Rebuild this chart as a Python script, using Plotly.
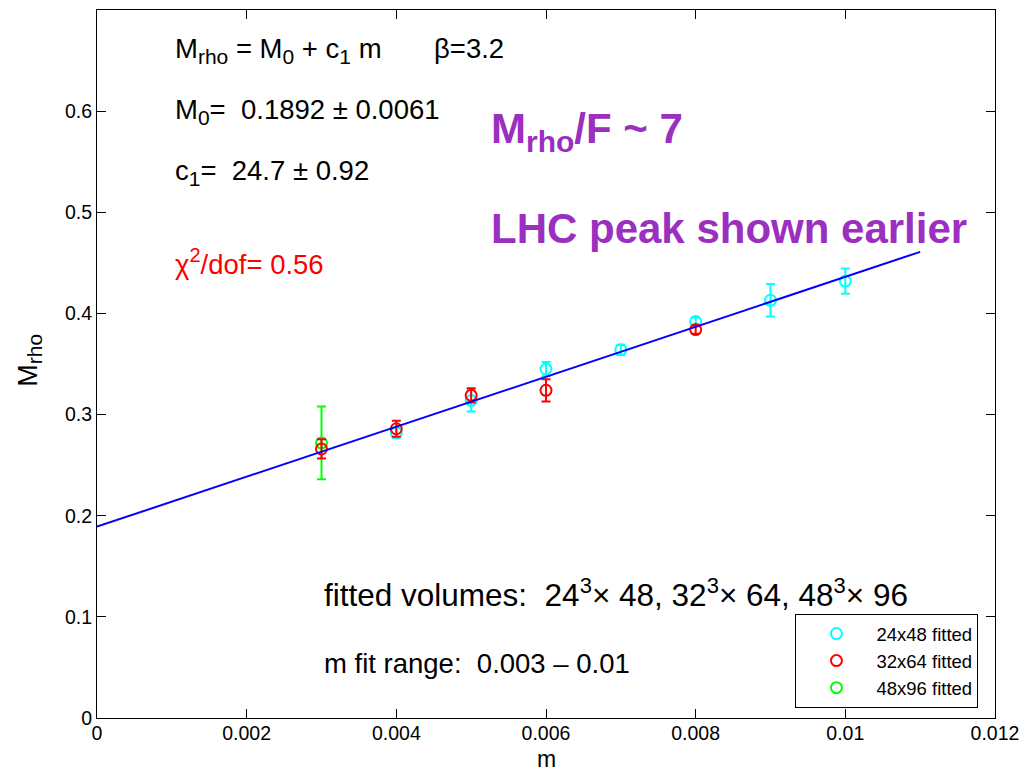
import plotly.graph_objects as go

# Lattice data: quark mass m, rho mass M_rho and its error, per volume
m_24 = [0.004, 0.005, 0.006, 0.007, 0.008, 0.009, 0.010]
M_24 = [0.282, 0.314, 0.345, 0.364, 0.392, 0.413, 0.432]
err_24 = [0.005, 0.011, 0.007, 0.005, 0.004, 0.016, 0.0125]

m_32 = [0.003, 0.004, 0.005, 0.006, 0.008]
M_32 = [0.266, 0.286, 0.319, 0.324, 0.384]
err_32 = [0.0095, 0.008, 0.007, 0.011, 0.004]

m_48 = [0.003]
M_48 = [0.272]
err_48 = [0.036]

# Linear fit M_rho = M0 + c1 * m
M0 = 0.1892
c1 = 24.7
fit_m = [0.0, 0.011]
fit_M = [M0 + c1 * x for x in fit_m]

x_ticks = [0, 0.002, 0.004, 0.006, 0.008, 0.010, 0.012]
x_tick_labels = ["0", "0.002", "0.004", "0.006", "0.008", "0.01", "0.012"]
y_ticks = [0, 0.1, 0.2, 0.3, 0.4, 0.5, 0.6]
y_tick_labels = ["0", "0.1", "0.2", "0.3", "0.4", "0.5", "0.6"]

FONT = "Liberation Sans, Arial, Helvetica, sans-serif"
W, H = 1028, 773
L, R, T, B = 97, 31, 9, 55
PW, PH = W - L - R, H - T - B


def px(x):
    return (x - L) / PW


def py(y):
    return (H - B - y) / PH


def sub(t, size):
    return f'<sub><span style="font-size:{size}px">{t}</span></sub>'


def sup(t, size):
    return f'<sup><span style="font-size:{size}px">{t}</span></sup>'


def series(name, xs, ys, es, color, rank):
    return go.Scatter(
        x=xs, y=ys, name=name, mode="markers", legendrank=rank,
        marker=dict(symbol="circle-open", size=11, color=color,
                    line=dict(width=2, color=color)),
        error_y=dict(type="data", array=es, visible=True, color=color,
                     thickness=2, width=4.5),
    )


fig = go.Figure()
fig.add_trace(series("24x48 fitted", m_24, M_24, err_24, "#00FFFF", 1))
fig.add_trace(series("48x96 fitted", m_48, M_48, err_48, "#00FF00", 3))
fig.add_trace(series("32x64 fitted", m_32, M_32, err_32, "#FF0000", 2))
fig.add_trace(go.Scatter(x=fit_m, y=fit_M, mode="lines", showlegend=False,
                         line=dict(color="#0000FF", width=2)))

black = dict(family=FONT, size=27.5, color="black")
purple = dict(family=FONT, size=42, color="#9A2FC0")
notes = [
    (173, 50, f"M{sub('rho', 21)} = M{sub('0', 21)} + c{sub('1', 21)} m", black),
    (433, 48, "β=3.2", black),
    (173, 110.5, f"M{sub('0', 21)}=  0.1892 ± 0.0061", black),
    (173, 171.5, f"c{sub('1', 21)}=  24.7 ± 0.92", black),
    (173, 261, f"χ{sup('2', 20)}/dof= 0.56", dict(black, color="#FF0000")),
    (490, 131, f"<b>M{sub('rho', 30)}/F ~ 7</b>", purple),
    (490, 228, "<b>LHC peak shown earlier</b>", purple),
    (323, 593, "fitted volumes:  24" + sup("3", 22) + "× 48, 32" + sup("3", 22)
     + "× 64, 48" + sup("3", 22) + "× 96", dict(black, size=31.5)),
    (323, 663, "m fit range:  0.003 – 0.01", dict(black, size=27.5)),
]
for x, y, text, font in notes:
    fig.add_annotation(xref="paper", yref="paper", x=px(x), y=py(y),
                       xanchor="left", yanchor="middle", text=text,
                       showarrow=False, font=font)

# Axis titles
fig.add_annotation(xref="paper", yref="paper", x=px(547), y=py(759),
                   xanchor="center", yanchor="middle", text="m",
                   showarrow=False, font=dict(family=FONT, size=23, color="black"))
fig.add_annotation(xref="paper", yref="paper", x=px(29), y=py(360),
                   xanchor="center", yanchor="middle",
                   text=f"M{sub('rho', 21)}",
                   textangle=-90, showarrow=False,
                   font=dict(family=FONT, size=27, color="black"))

axis_common = dict(showgrid=False, zeroline=False, showline=True, linecolor="black",
                   linewidth=1, mirror="ticks", ticks="inside", ticklen=9,
                   tickcolor="black", tickwidth=1,
                   tickfont=dict(family=FONT, size=19.5, color="black"))

fig.update_layout(
    width=W, height=H,
    margin=dict(l=L, r=R, t=T, b=B),
    paper_bgcolor="white", plot_bgcolor="white",
    xaxis=dict(range=[0, 0.012], tickvals=x_ticks, ticktext=x_tick_labels,
               ticklabelstandoff=-2, **axis_common),
    yaxis=dict(range=[0, 0.7], tickvals=y_ticks, ticktext=y_tick_labels, **axis_common),
    legend=dict(x=px(797), y=py(708), xanchor="left", yanchor="bottom",
                bordercolor="black", borderwidth=1, bgcolor="white",
                itemwidth=70, tracegroupgap=0,
                font=dict(family=FONT, size=18.5, color="black")),
    showlegend=True,
)

fig.write_html("out.html")
